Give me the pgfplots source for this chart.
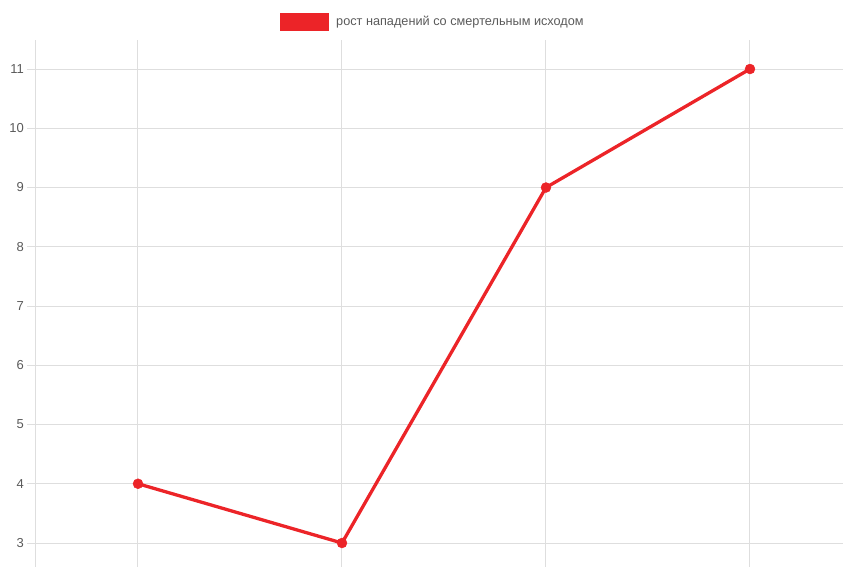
\documentclass[border=0pt]{standalone}
\usepackage{pgfplots}
\pgfplotsset{compat=1.18}
\usepackage{fontspec}
\setmainfont{Liberation Sans}
\definecolor{linered}{RGB}{236,36,40}
\definecolor{gridgray}{RGB}{222,222,222}
\definecolor{labelgray}{RGB}{90,90,90}
\begin{document}
\begin{tikzpicture}
  \begin{axis}[
    scale only axis,
    width=807pt,
    height=527pt,
    xmin=-0.5, xmax=3.456,
    ymin=2.595, ymax=11.49,
    xtick={0,1,2,3},
    xticklabels={},
    ytick={3,4,5,6,7,8,9,10,11},
    grid=major,
    grid style={line width=1pt, draw=gridgray},
    axis lines*=left,
    axis line style={-},
    x axis line style={draw=none},
    y axis line style={line width=1pt, draw=gridgray},
    tick align=outside,
    major tick length=9pt,
    x tick style={draw=none},
    y tick style={line width=1pt, draw=gridgray},
    yticklabel style={font=\fontsize{13}{15}\selectfont, text=labelgray, inner xsep=3pt},
    /pgf/number format/assume math mode=true,
    legend style={
      at={(0.4917,1)}, anchor=center, yshift=18pt,
      draw=none, fill=none,
      font=\fontsize{12.7}{15}\selectfont, text=labelgray,
    },
    clip=false,
  ]
  \addplot[
    color=linered, line width=3.3pt,
    mark=*, mark size=5pt, mark options={fill=linered, draw=linered, line width=0.4pt, solid},
    legend image code/.code={
      \fill[linered] (0pt,-7.5pt) rectangle (46pt,7.5pt);
      \path (51pt,0pt);
    },
  ] coordinates {
    (0, 4)
    (1, 3)
    (2, 9)
    (3, 11)
  };
  \addlegendentry{рост нападений со смертельным исходом}
  \end{axis}
  \pgfresetboundingbox
  \path ([xshift=-36pt]current axis.south west) rectangle ([yshift=40pt]current axis.north east);
\end{tikzpicture}
\end{document}
